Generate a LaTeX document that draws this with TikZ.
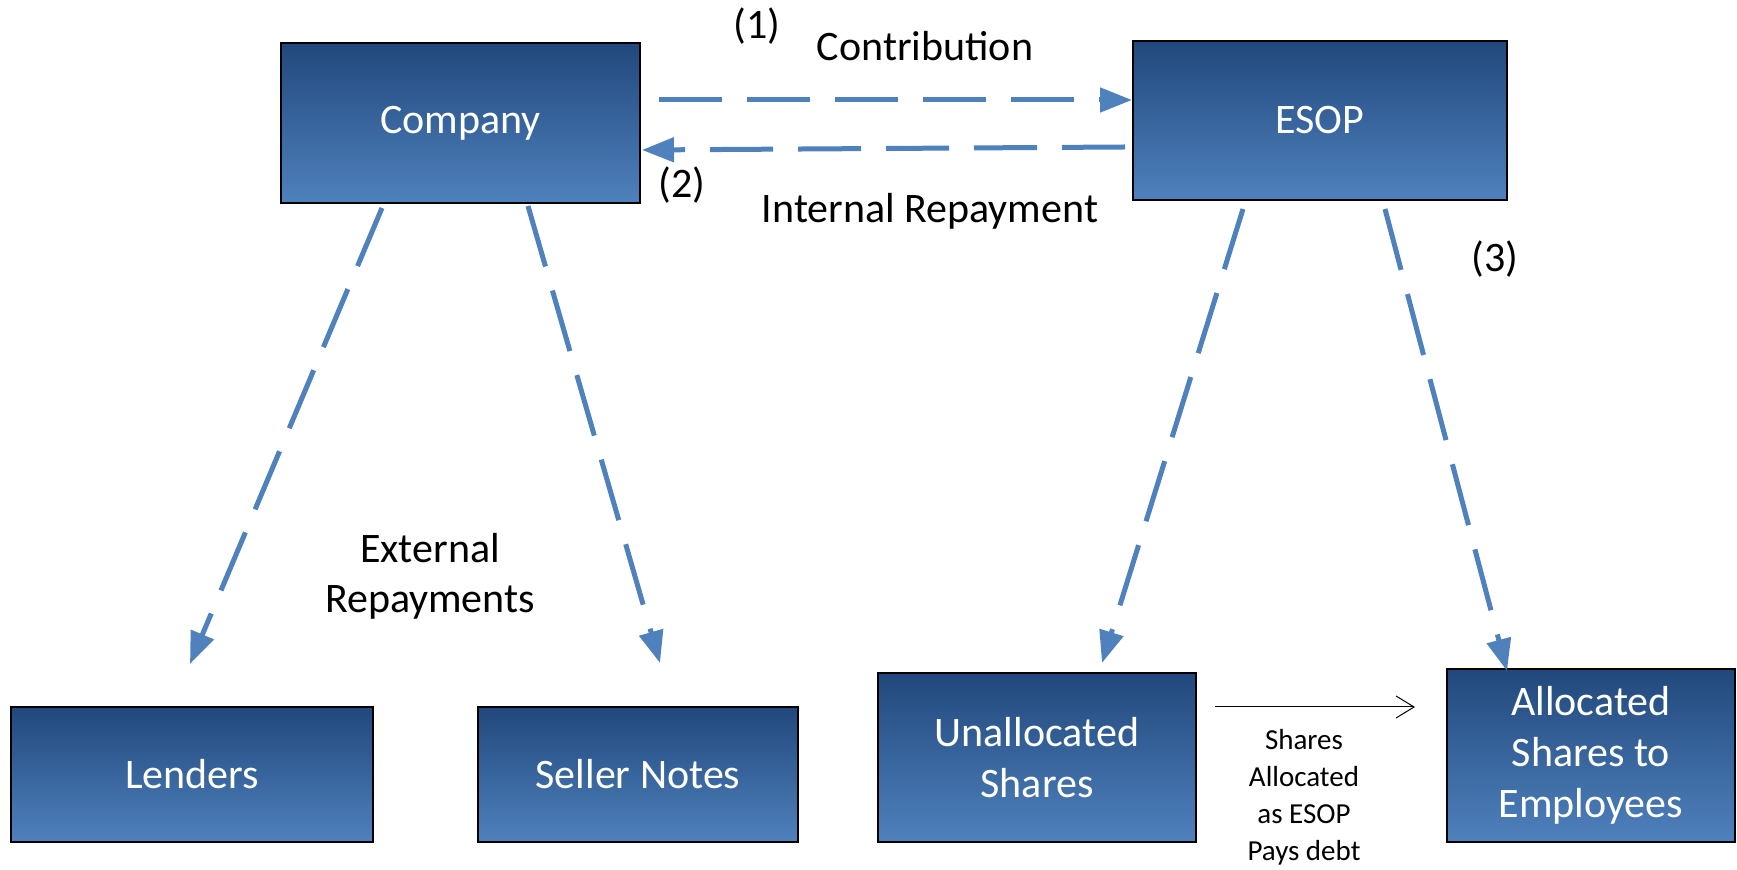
\documentclass[tikz,border=0pt]{standalone}
\usepackage{fontspec}
\setmainfont{Carlito}
\usetikzlibrary{arrows.meta,calc}
\definecolor{boxtop}{RGB}{33,72,124}
\definecolor{boxbottom}{RGB}{79,129,189}
\definecolor{flowblue}{RGB}{79,129,189}

\begin{document}
\begin{tikzpicture}[x=0.5pt,y=-0.5pt,
    box/.style={rectangle, draw=black, line width=1pt, top color=boxtop, bottom color=boxbottom,
      text=white, align=center, inner sep=0pt, font=\fontsize{21}{25.5}\selectfont},
    flow/.style={draw=flowblue, line width=2.5pt, dash pattern=on 31.5pt off 12.5pt,
      -{Triangle[length=16pt,width=12pt]}},
    flowtext/.style={anchor=base, align=center, font=\fontsize{21}{25}\selectfont},
    smalltext/.style={anchor=base, align=center, font=\fontsize{14.5}{18.5}\selectfont}]

      \useasboundingbox (0,0) rectangle (1737,870);

      \node[box, minimum width=179.5pt, minimum height=80pt] (company) at (460.5,123) {Company};
      \node[box, minimum width=187pt, minimum height=79.5pt] (esop) at (1320,120.5) {ESOP};
      \node[box, minimum width=181pt, minimum height=67.5pt] (lenders) at (192,774.5) {Lenders};
      \node[box, minimum width=160pt, minimum height=67.5pt] (seller) at (638,774.5) {Seller Notes};
      \node[box, minimum width=159pt, minimum height=84.5pt] (unalloc) at (1037,757.5) {Unallocated\\Shares};
      \node[box, minimum width=144pt, minimum height=86.5pt] (alloc) at (1591,755.5) {Allocated\\Shares to\\Employees};

      \draw[flow] ($(company.east)+(18,-23)$) -- ($(esop.west)+(0,-20.5)$);
      \draw[flow] ($(esop.west)+(-7,26.5)$) -- ($(company.east)+(1,27)$);
      \draw[flow] ($(company.south)+(-78.5,4)$) -- ($(lenders.north)+(-2,-42)$);
      \draw[flow] ($(company.south)+(67.5,2)$) -- ($(seller.north)+(22,-43)$);
      \draw[flow] ($(esop.south)+(-77,8)$) -- ($(unalloc.north)+(65,-9)$);
      \draw[flow] ($(esop.south)+(65,8)$) -- ($(alloc.north)+(-84,3)$);
      \draw[line width=0.5pt, -{Straight Barb[length=9pt,width=11pt]}] ($(unalloc.east)+(18,-50.5)$) -- ($(alloc.west)+(-31,-48.5)$);

      \node[flowtext] (one) at (757,39) {(1)};
      \node[flowtext] (contrib) at (925,61) {Contribution};
      \node[flowtext] (two) at (682,198) {(2)};
      \node[flowtext] (internal) at (930,223) {Internal Repayment};
      \node[flowtext] (three) at (1495,272) {(3)};
      \node[flowtext] (external) at (430,613) {External\\Repayments};
      \node[smalltext] (paysdebt) at (1304,861) {Shares\\Allocated\\as ESOP\\Pays debt};

\end{tikzpicture}
\end{document}
